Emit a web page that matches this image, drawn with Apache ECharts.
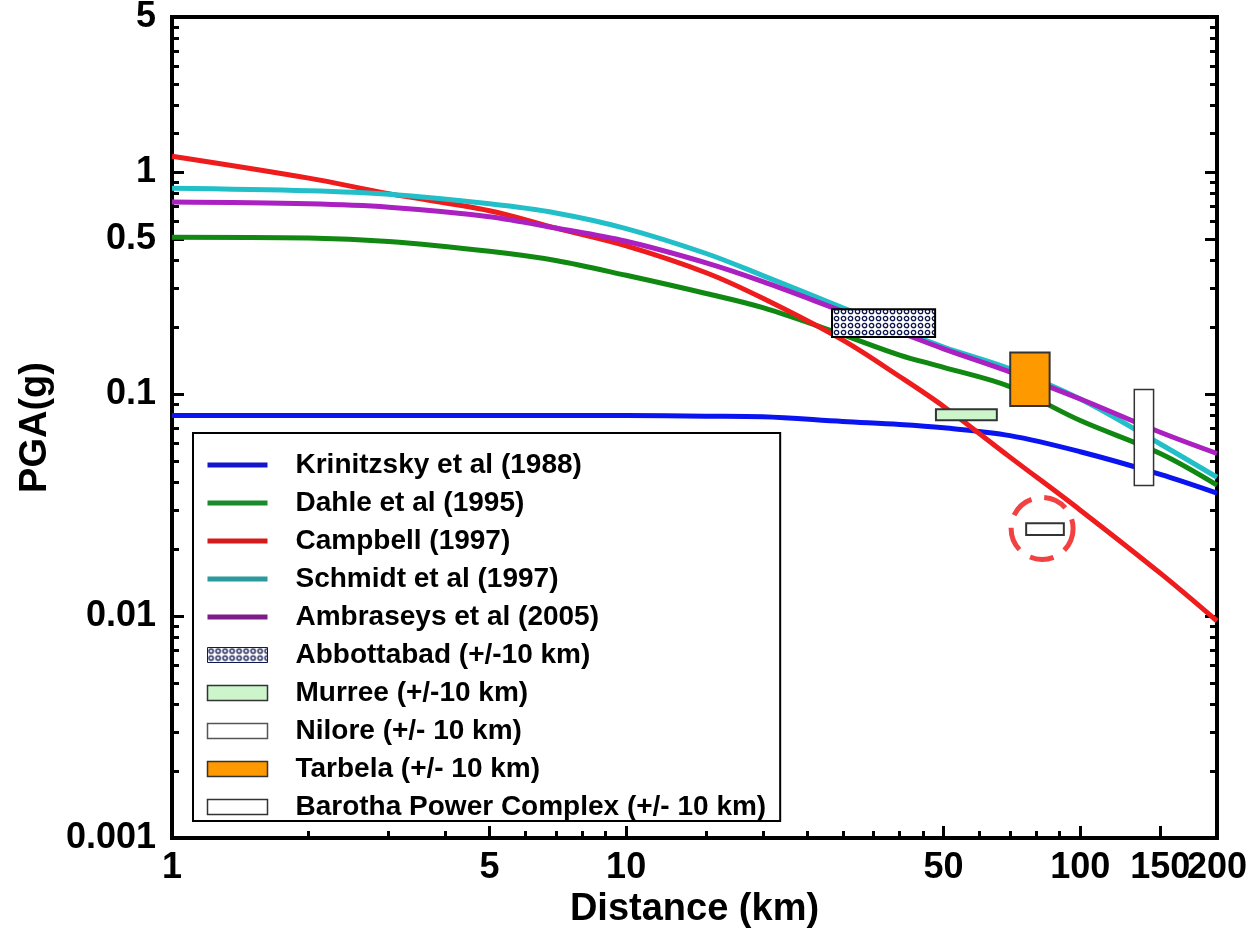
<!DOCTYPE html>
<html>
<head>
<meta charset="utf-8">
<title>PGA vs Distance</title>
<script src="https://cdn.jsdelivr.net/npm/echarts@6/dist/echarts.min.js"></script>
<style>
  html, body { margin: 0; padding: 0; background: #fff; }
  #main { width: 1255px; height: 937px; }
</style>
</head>
<body>
<div id="main"></div>
<script>
// distances (km) where the attenuation curves were read
var dist = [1, 2, 3, 5, 7, 10, 15, 20, 30, 40, 50, 70, 100, 150, 200];
var krinitzsky = [0.080, 0.080, 0.080, 0.080, 0.080, 0.080, 0.0795, 0.079, 0.0752, 0.0730, 0.0705, 0.065, 0.055, 0.0435, 0.0358];
var dahle = [0.509, 0.505, 0.487, 0.44, 0.40, 0.343, 0.284, 0.245, 0.185, 0.150, 0.132, 0.108, 0.076, 0.054, 0.0389];
var campbell = [1.18, 0.94, 0.80, 0.67, 0.559, 0.465, 0.352, 0.27, 0.175, 0.12, 0.088, 0.052, 0.030, 0.0156, 0.0095];
var schmidt = [0.847, 0.825, 0.795, 0.72, 0.655, 0.557, 0.43, 0.342, 0.245, 0.194, 0.163, 0.13, 0.095, 0.0596, 0.0422];
var ambraseys = [0.733, 0.72, 0.695, 0.63, 0.56, 0.488, 0.39, 0.321, 0.236, 0.19, 0.16, 0.126, 0.095, 0.0673, 0.054];

// site boxes: [distFrom, distTo, pgaFrom, pgaTo]
var abbottabad = [28.4, 47.9, 0.181, 0.241];
var murree = [48.1, 65.5, 0.0762, 0.0855];
var nilore = [76, 92, 0.0232, 0.0262];
var tarbela = [70.1, 85.6, 0.0883, 0.154];
var barotha = [131.5, 145, 0.0387, 0.105];
var niloreMark = [82.4, 0.0248];

// axis ticks
var xLabels = [1, 5, 10, 50, 100, 150, 200];
var xMajor = [5, 10, 50, 100, 150];
var xMinor = [2, 3, 4, 6, 7, 8, 9, 15, 20, 25, 30, 35, 40, 45, 60, 70, 80, 90];
var yLabels = [0.001, 0.01, 0.1, 0.5, 1, 5];
var yMajor = [0.01, 0.1, 0.5, 1];
var yMinor = [0.002, 0.003, 0.004, 0.005, 0.006, 0.007, 0.008, 0.009,
  0.02, 0.03, 0.04, 0.05, 0.06, 0.07, 0.08, 0.09,
  0.2, 0.3, 0.4, 0.6, 0.7, 0.8, 0.9,
  1.5, 2, 2.5, 3, 3.5, 4, 4.5];

// 150 and 200 touch, so 150 goes on the second x axis (else it gets dropped)
var xLabelsA = xLabels.filter(function (v) { return v !== 150; });
var xLabelsB = xLabels.filter(function (v) { return v === 150; });

var FONT = '"Liberation Sans", Arial, sans-serif';

var chart = echarts.init(document.getElementById('main'), null, {renderer: 'canvas'});

// ring pattern for the Abbottabad box
function ringPattern() {
  var c = document.createElement('canvas');
  c.width = 7; c.height = 7;
  var ctx = c.getContext('2d');
  ctx.fillStyle = '#fff';
  ctx.fillRect(0, 0, 7, 7);
  ctx.strokeStyle = '#101850';
  ctx.lineWidth = 1.3;
  ctx.beginPath();
  ctx.arc(3.5, 3.5, 2.2, 0, Math.PI * 2);
  ctx.stroke();
  return {image: c, repeat: 'repeat'};
}
var abbFill = ringPattern();

function pairs(ys) {
  return dist.map(function (d, i) { return [d, ys[i]]; });
}

function lineSeries(name, ys, color) {
  return {
    name: name,
    type: 'line',
    data: pairs(ys),
    symbol: 'none',
    showSymbol: false,
    smooth: 0.35,
    lineStyle: {color: color, width: 5},
    itemStyle: {color: color},
    z: 3
  };
}

function boxSeries(name, box, fill, stroke, lw) {
  return {
    name: name,
    type: 'custom',
    data: [box],
    encode: {x: [0, 1], y: [2, 3]},
    z: 4,
    renderItem: function (params, api) {
      var p0 = api.coord([api.value(0), api.value(3)]);
      var p1 = api.coord([api.value(1), api.value(2)]);
      return {
        type: 'rect',
        shape: {x: p0[0], y: p0[1], width: p1[0] - p0[0], height: p1[1] - p0[1]},
        style: {fill: fill, stroke: stroke, lineWidth: lw}
      };
    }
  };
}

function fmt(v) {
  return String(parseFloat(Number(v).toPrecision(4)));
}

var tickLabel = {fontSize: 36, fontWeight: 'bold', fontFamily: FONT, color: '#000'};

function legendLine(name, color) {
  return {name: name, lineStyle: {color: color, width: 5}, itemStyle: {opacity: 0}};
}

var option = {
  animation: false,
  backgroundColor: '#fff',
  grid: {
    left: 172, top: 17, right: 38, bottom: 99,
    show: true, borderColor: '#000', borderWidth: 4,
    outerBoundsMode: 'none'
  },
  xAxis: [{
    type: 'log', logBase: 10, min: 1, max: 200,
    name: 'Distance (km)', nameLocation: 'middle', nameGap: 52,
    nameTextStyle: {fontSize: 38, fontWeight: 'bold', fontFamily: FONT, color: '#000'},
    axisLine: {lineStyle: {color: '#000', width: 4}},
    axisTick: {inside: true, length: 12, lineStyle: {color: '#000', width: 3}, customValues: xMajor},
    axisLabel: Object.assign({margin: 12, customValues: xLabelsA, formatter: fmt,
      hideOverlap: false, showMinLabel: true, showMaxLabel: true}, tickLabel),
    splitLine: {show: false}
  }, {
    type: 'log', logBase: 10, min: 1, max: 200, position: 'bottom',
    axisLine: {show: false},
    axisTick: {inside: true, length: 7, lineStyle: {color: '#000', width: 3}, customValues: xMinor},
    axisLabel: Object.assign({margin: 12, customValues: xLabelsB, formatter: fmt}, tickLabel),
    splitLine: {show: false}
  }],
  yAxis: [{
    type: 'log', logBase: 10, min: 0.001, max: 5, position: 'left',
    name: 'PGA(g)', nameLocation: 'middle', nameGap: 116,
    nameTextStyle: {fontSize: 38, fontWeight: 'bold', fontFamily: FONT, color: '#000'},
    axisLine: {lineStyle: {color: '#000', width: 4}},
    axisTick: {inside: true, length: 12, lineStyle: {color: '#000', width: 3}, customValues: yMajor},
    axisLabel: Object.assign({margin: 16, customValues: yLabels, formatter: fmt,
      hideOverlap: false, showMinLabel: true, showMaxLabel: true}, tickLabel),
    splitLine: {show: false}
  }, {
    type: 'log', logBase: 10, min: 0.001, max: 5, position: 'left',
    axisLine: {show: false},
    axisTick: {inside: true, length: 7, lineStyle: {color: '#000', width: 3}, customValues: yMinor},
    axisLabel: {show: false},
    splitLine: {show: false}
  }, {
    type: 'log', logBase: 10, min: 0.001, max: 5, position: 'right',
    axisLine: {show: false},
    axisTick: {inside: true, length: 12, lineStyle: {color: '#000', width: 3}, customValues: yMajor},
    axisLabel: {show: false},
    splitLine: {show: false}
  }, {
    type: 'log', logBase: 10, min: 0.001, max: 5, position: 'right',
    axisLine: {show: false},
    axisTick: {inside: true, length: 7, lineStyle: {color: '#000', width: 3}, customValues: yMinor},
    axisLabel: {show: false},
    splitLine: {show: false}
  }],
  legend: {
    orient: 'vertical', left: 193, top: 433,
    padding: [18, 14, 0, 12], itemGap: 10,
    itemWidth: 60, itemHeight: 15,
    backgroundColor: '#fff', borderColor: '#000', borderWidth: 2,
    selectedMode: false,
    textStyle: {fontSize: 28, fontWeight: 'bold', fontFamily: FONT, color: '#000', lineHeight: 28, padding: [0, 0, 0, 23]},
    data: [
      legendLine('Krinitzsky et al (1988)', '#1515cc'),
      legendLine('Dahle et al (1995)', '#1a8a2a'),
      legendLine('Campbell (1997)', '#d41a1a'),
      legendLine('Schmidt et al (1997)', '#2a9a9e'),
      legendLine('Ambraseys et al (2005)', '#7c1c8a'),
      {name: 'Abbottabad (+/-10 km)', icon: 'rect', itemStyle: {color: abbFill, borderColor: '#101850', borderWidth: 1}},
      {name: 'Murree (+/-10 km)', icon: 'rect', itemStyle: {color: '#ccf5cc', borderColor: '#333', borderWidth: 1.5}},
      {name: 'Nilore (+/- 10 km)', icon: 'rect', itemStyle: {color: '#fff', borderColor: '#555', borderWidth: 1.5}},
      {name: 'Tarbela (+/- 10 km)', icon: 'rect', itemStyle: {color: '#ff9900', borderColor: '#333', borderWidth: 1.5}},
      {name: 'Barotha Power Complex (+/- 10 km)', icon: 'rect', itemStyle: {color: '#fff', borderColor: '#333', borderWidth: 1.5}}
    ]
  },
  series: [
    lineSeries('Krinitzsky et al (1988)', krinitzsky, '#0a14f0'),
    lineSeries('Dahle et al (1995)', dahle, '#118811'),
    lineSeries('Campbell (1997)', campbell, '#ee1c1c'),
    lineSeries('Schmidt et al (1997)', schmidt, '#22bfc9'),
    lineSeries('Ambraseys et al (2005)', ambraseys, '#aa20c0'),
    boxSeries('Abbottabad (+/-10 km)', abbottabad, abbFill, '#000', 2),
    boxSeries('Murree (+/-10 km)', murree, '#ccf5cc', '#333', 2),
    boxSeries('Nilore (+/- 10 km)', nilore, '#fff', '#333', 2),
    boxSeries('Tarbela (+/- 10 km)', tarbela, '#ff9900', '#333', 2),
    boxSeries('Barotha Power Complex (+/- 10 km)', barotha, '#fff', '#333', 1.5),
    {
      // dashed red ring round the Nilore box
      type: 'scatter',
      data: [niloreMark],
      symbol: 'circle',
      symbolSize: 62,
      z: 5,
      itemStyle: {color: 'rgba(0,0,0,0)', borderColor: '#ee1111', borderWidth: 5, borderType: [24, 13]}
    }
  ]
};

chart.setOption(option);
</script>
</body>
</html>
